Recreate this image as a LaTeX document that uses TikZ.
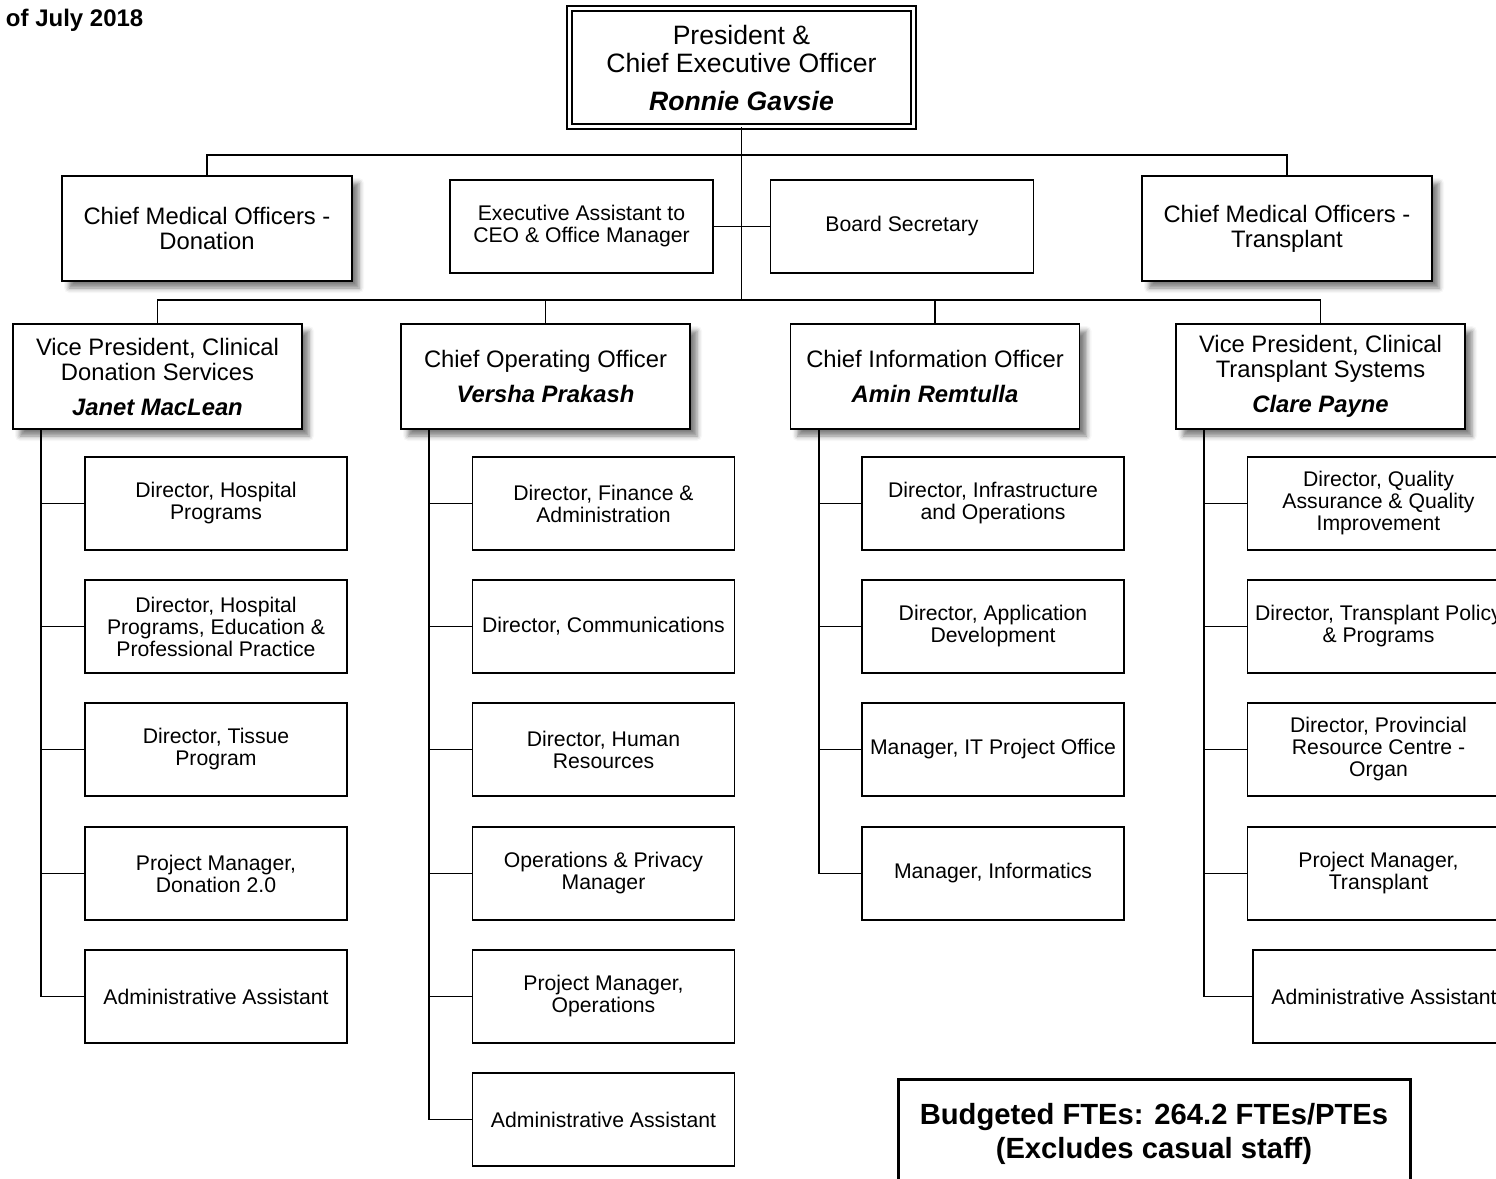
\documentclass[tikz,border=0pt]{standalone}
\usepackage{fontspec}
\setmainfont{Liberation Sans}
\usepackage{tikz}
\usetikzlibrary{positioning,shadows.blur}

\tikzset{
  orgbox/.style={draw, line width=0.9pt, fill=white, align=center, inner sep=2pt},
  dirbox/.style={orgbox, minimum width=131pt, minimum height=46.5pt,
    font=\fontsize{10.6}{11}\selectfont},
  asstbox/.style={dirbox, minimum width=131.5pt},
  headbox/.style={orgbox, minimum width=144.5pt, minimum height=52.5pt,
    font=\fontsize{11.9}{12.5}\selectfont,
    blur shadow={shadow xshift=3.5pt, shadow yshift=-3.5pt, shadow blur radius=2.5pt, shadow opacity=50}},
  ceobox/.style={draw, double, line width=0.9pt, double distance=1.6pt, fill=white, align=center,
    minimum width=172pt, minimum height=59pt, font=\fontsize{13.3}{14}\selectfont},
  ftebox/.style={draw, line width=1.5pt, fill=white, align=center, minimum width=256pt,
    minimum height=55pt, font=\bfseries\fontsize{14.6}{17}\selectfont}
}
\newcommand{\who}[1]{\textbf{\textit{#1}}}

\begin{document}
\begin{tikzpicture}[x=0.5pt, y=-0.5pt, line width=0.95pt]
\useasboundingbox (0,0) rectangle (1496,1179);

			\node [anchor=base west, inner sep=0pt, font=\bfseries\fontsize{12}{14}\selectfont] (asof) at (5,26) {of July 2018};

			\node [ceobox] (ceo) at (741.5,67.5) {President \&\\Chief Executive Officer\\[5pt]\who{Ronnie Gavsie}};

			\node [headbox, minimum width=145pt] (cmodon) at (207,228.5) {Chief Medical Officers -\\Donation};
			\node [asstbox] (eaceo) at (581.5,226.5) {Executive Assistant to\\CEO \& Office Manager};
			\node [asstbox] (bdsec) at (902,226.5) {Board Secretary};
			\node [headbox, minimum width=145pt] (cmotx) at (1287,228.5) {Chief Medical Officers -\\Transplant};

			\node [headbox] (vpdon) at (157.5,376.5) {Vice President, Clinical\\Donation Services\\[5pt]\who{Janet MacLean}};
			\node [headbox] (coo) at (545.5,376.5) {Chief Operating Officer\\[5pt]\who{Versha Prakash}};
			\node [headbox] (cio) at (935,376.5) {Chief Information Officer\\[5pt]\who{Amin Remtulla}};
			\node [headbox] (vptx) at (1320.5,376.5) {Vice President, Clinical\\Transplant Systems\\[5pt]\who{Clare Payne}};

			\node [dirbox] (dhosp) at (216,503.5) {Director, Hospital\\Programs};
			\node [dirbox] (dhedu) at (216,626.5) {Director, Hospital\\Programs, Education \&\\Professional Practice};
			\node [dirbox] (dtissue) at (216,749.5) {Director, Tissue\\Program};
			\node [dirbox] (pmdon) at (216,873.5) {Project Manager,\\Donation 2.0};
			\node [dirbox] (aadon) at (216,996.5) {Administrative Assistant};

			\node [dirbox] (dfin) at (603.5,503.5) {Director, Finance \&\\Administration};
			\node [dirbox] (dcomm) at (603.5,626.5) {Director, Communications};
			\node [dirbox] (dhr) at (603.5,749.5) {Director, Human\\Resources};
			\node [dirbox] (opspriv) at (603.5,873.5) {Operations \& Privacy\\Manager};
			\node [dirbox] (pmops) at (603.5,996.5) {Project Manager,\\Operations};
			\node [dirbox] (aacoo) at (603.5,1119.5) {Administrative Assistant};

			\node [dirbox] (dinfra) at (993,503.5) {Director, Infrastructure\\and Operations};
			\node [dirbox] (dappdev) at (993,626.5) {Director, Application\\Development};
			\node [dirbox] (mitpo) at (993,749.5) {Manager, IT Project Office};
			\node [dirbox] (minfo) at (993,873.5) {Manager, Informatics};

			\node [dirbox] (dqa) at (1378.5,503.5) {Director, Quality\\Assurance \& Quality\\Improvement};
			\node [dirbox] (dtxpol) at (1378.5,626.5) {Director, Transplant Policy\\\& Programs};
			\node [dirbox] (dprc) at (1378.5,749.5) {Director, Provincial\\Resource Centre -\\Organ};
			\node [dirbox] (pmtx) at (1378.5,873.5) {Project Manager,\\Transplant};
			\node [dirbox] (aatx) at (1384,996.5) {Administrative Assistant};

			\node [ftebox] (budget) at (1154,1134) {Budgeted FTEs: 264.2 FTEs/PTEs\\(Excludes casual staff)};

			\coordinate (ceojoin) at (741.5,155);
			\coordinate (vpjoin) at (741.5,300);
			\coordinate (vpdonsp) at ([xshift=14.5pt]vpdon.south west);
			\coordinate (coosp) at ([xshift=14.5pt]coo.south west);
			\coordinate (ciosp) at ([xshift=14.5pt]cio.south west);
			\coordinate (vptxsp) at ([xshift=14.5pt]vptx.south west);

			\draw [-] (ceo.south) to (vpjoin);
			\draw [-] (cmodon.north) |- (ceojoin) -| (cmotx.north);
			\draw [-] (eaceo.east) to (bdsec.west);
			\draw [-] (vpdon.north) |- (vpjoin) -| (vptx.north);
			\draw [-] (coo.north) to (coo.north |- vpjoin);
			\draw [-] (cio.north) to (cio.north |- vpjoin);

			\draw [-] (vpdonsp) |- (aadon.west);
			\draw [-] (vpdonsp |- dhosp.west) to (dhosp.west);
			\draw [-] (vpdonsp |- dhedu.west) to (dhedu.west);
			\draw [-] (vpdonsp |- dtissue.west) to (dtissue.west);
			\draw [-] (vpdonsp |- pmdon.west) to (pmdon.west);

			\draw [-] (coosp) |- (aacoo.west);
			\draw [-] (coosp |- dfin.west) to (dfin.west);
			\draw [-] (coosp |- dcomm.west) to (dcomm.west);
			\draw [-] (coosp |- dhr.west) to (dhr.west);
			\draw [-] (coosp |- opspriv.west) to (opspriv.west);
			\draw [-] (coosp |- pmops.west) to (pmops.west);

			\draw [-] (ciosp) |- (minfo.west);
			\draw [-] (ciosp |- dinfra.west) to (dinfra.west);
			\draw [-] (ciosp |- dappdev.west) to (dappdev.west);
			\draw [-] (ciosp |- mitpo.west) to (mitpo.west);

			\draw [-] (vptxsp) |- (aatx.west);
			\draw [-] (vptxsp |- dqa.west) to (dqa.west);
			\draw [-] (vptxsp |- dtxpol.west) to (dtxpol.west);
			\draw [-] (vptxsp |- dprc.west) to (dprc.west);
			\draw [-] (vptxsp |- pmtx.west) to (pmtx.west);
\end{tikzpicture}
\end{document}
